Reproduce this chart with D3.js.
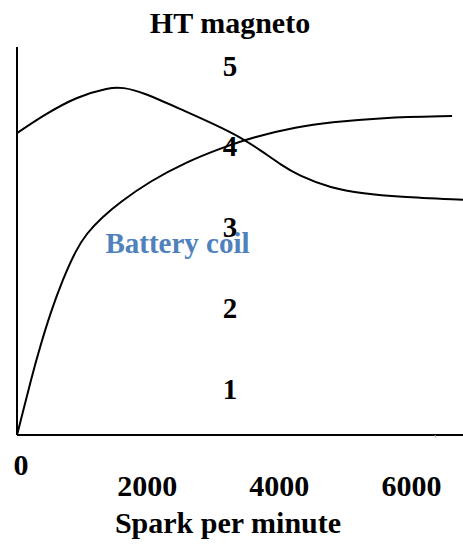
<!DOCTYPE html>
<html>
<head>
<meta charset="utf-8">
<script src="https://cdn.jsdelivr.net/npm/d3@7"></script>
<style>
  html, body { margin: 0; padding: 0; background: #fff; }
</style>
</head>
<body>
<div id="chart"></div>
<script>
// tick labels
const sparkTicks = [0, 2000, 4000, 6000];
const levelTicks = [1, 2, 3, 4, 5];

// HT magneto curve (spark/min, level)
const magnetoRpm = [0, 400, 900, 1400, 1600, 1900, 2500, 3000, 3400, 3700, 4000, 4250, 4750, 5250, 5750, 6750];
const magnetoVal = [3.89, 4.12, 4.36, 4.48, 4.48, 4.42, 4.19, 4.00, 3.83, 3.66, 3.48, 3.35, 3.18, 3.11, 3.07, 3.03];

// battery coil curve
const coilRpm = [0, 85, 210, 350, 505, 690, 890, 1055, 1280, 1560, 2010, 2570, 3070, 3575, 4240, 4740, 5495, 6585];
const coilVal = [0, 0.28, 0.71, 1.14, 1.57, 2.00, 2.38, 2.60, 2.80, 3.00, 3.27, 3.52, 3.69, 3.84, 3.97, 4.03, 4.09, 4.11];

const W = 463, H = 544;
const FONT = 'Liberation Serif';

const svg = d3.select('#chart').append('svg')
  .attr('width', W)
  .attr('height', H);

// plot scales
const x = d3.scaleLinear().domain([0, 6750]).range([17, 463]);
const y = d3.scaleLinear().domain([0, 5]).range([435, 47]);
// the level numbers sit inside the plot, a bit off the curve scale
const yLab = d3.scaleLinear().domain([1, 5]).range([398.5, 75.5]);

// axes lines
svg.append('line')
  .attr('x1', x(0)).attr('x2', x(0))
  .attr('y1', y(5)).attr('y2', y(0))
  .attr('stroke', '#000').attr('stroke-width', 2);
svg.append('line')
  .attr('x1', x(0)).attr('x2', W)
  .attr('y1', y(0)).attr('y2', y(0))
  .attr('stroke', '#000').attr('stroke-width', 2);
// tiny stray tick near the end of the x axis
svg.append('line')
  .attr('x1', x(6330)).attr('x2', x(6330))
  .attr('y1', y(0)).attr('y2', y(0) + 3)
  .attr('stroke', '#bbb').attr('stroke-width', 1);

const line = d3.line()
  .curve(d3.curveBasis)
  .x(d => x(d[0]))
  .y(d => y(d[1]));

svg.append('path')
  .datum(d3.zip(magnetoRpm, magnetoVal))
  .attr('d', line)
  .attr('fill', 'none')
  .attr('stroke', '#000')
  .attr('stroke-width', 2);

svg.append('path')
  .datum(d3.zip(coilRpm, coilVal))
  .attr('d', line)
  .attr('fill', 'none')
  .attr('stroke', '#000')
  .attr('stroke-width', 2);

function label(sel, size) {
  return sel
    .attr('text-anchor', 'middle')
    .attr('font-family', FONT)
    .attr('font-weight', 'bold')
    .attr('font-size', size);
}

// level labels
svg.selectAll('.lvl')
  .data(levelTicks)
  .enter().append('text')
  .attr('class', 'lvl')
  .attr('x', 230)
  .attr('y', d => yLab(d))
  .call(label, 29)
  .text(d => d);

// x tick labels, the 0 sits higher than the rest
svg.selectAll('.xt')
  .data(sparkTicks)
  .enter().append('text')
  .attr('class', 'xt')
  .attr('x', d => d === 0 ? x(d) + 4 : x(d) - 2)
  .attr('y', d => d === 0 ? 475 : 496)
  .call(label, 30)
  .text(d => d);

// titles
svg.append('text')
  .attr('x', 230).attr('y', 33)
  .call(label, 30)
  .text('HT magneto');

svg.append('text')
  .attr('x', 228).attr('y', 533)
  .call(label, 30)
  .text('Spark per minute');

svg.append('text')
  .attr('x', 177.5).attr('y', 253)
  .call(label, 29)
  .attr('fill', '#4f81bd')
  .text('Battery coil');
</script>
</body>
</html>
